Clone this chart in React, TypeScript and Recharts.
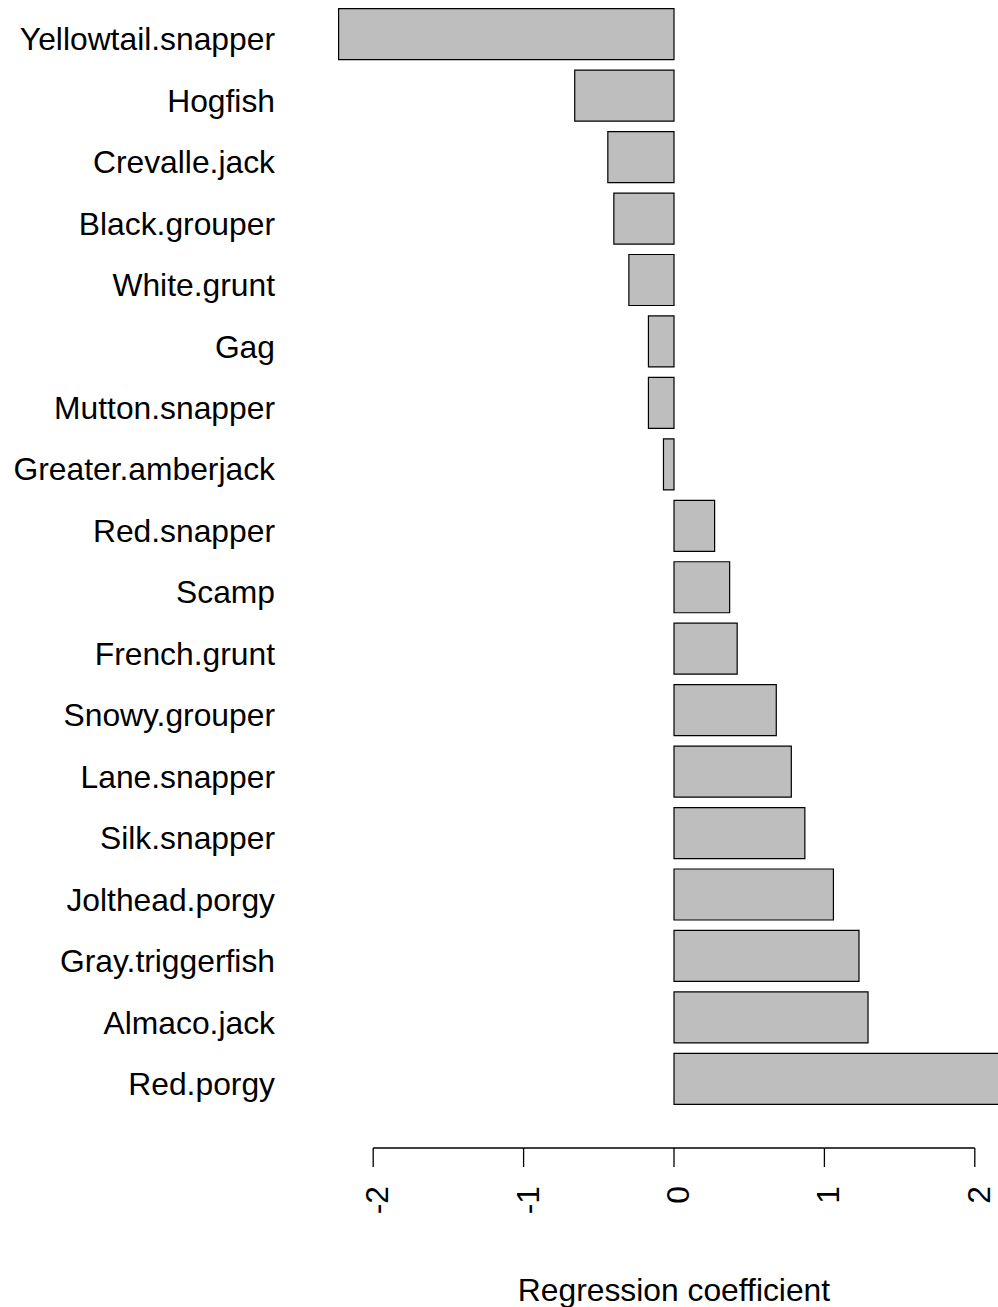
import React from 'react';
import { BarChart, Bar, XAxis, YAxis } from 'recharts';

const species = [
  'Yellowtail.snapper', 'Hogfish', 'Crevalle.jack', 'Black.grouper', 'White.grunt', 'Gag',
  'Mutton.snapper', 'Greater.amberjack', 'Red.snapper', 'Scamp', 'French.grunt', 'Snowy.grouper',
  'Lane.snapper', 'Silk.snapper', 'Jolthead.porgy', 'Gray.triggerfish', 'Almaco.jack', 'Red.porgy',
];
const coefficients = [
  -2.23, -0.66, -0.44, -0.4, -0.3, -0.17,
  -0.17, -0.07, 0.27, 0.37, 0.42, 0.68,
  0.78, 0.87, 1.06, 1.23, 1.29, 2.35,
];
const xTicks = [-2, -1, 0, 1, 2];
const xDomain = [-2.5, 2.5];
const xTitle = 'Regression coefficient';

const FONT = '"Liberation Sans", Arial, Helvetica, sans-serif';
const FONT_SIZE = 31.8;
const Y_AXIS_W = 298;
const PLOT_W = 752;
const UNIT_PX = PLOT_W / (xDomain[1] - xDomain[0]);
const AXIS_GAP = 38.3;

const data = species.map((name, i) => ({ name, value: coefficients[i] }));

function SpeciesTick({ x, y, payload }: any) {
  return (
    <text x={x - 23} y={y + 16} textAnchor="end" fontFamily={FONT} fontSize={FONT_SIZE} fill="#000">
      {payload.value}
    </text>
  );
}

// base-R style axis: line only spans first..last tick, labels rotated
function CoefTick({ x, y, payload, index }: any) {
  const ay = y + AXIS_GAP;
  const last = index === xTicks.length - 1;
  return (
    <g>
      {!last && <line x1={x} x2={x + UNIT_PX} y1={ay} y2={ay} stroke="#000" strokeWidth={1.3} />}
      <line x1={x} x2={x} y1={ay} y2={ay + 19} stroke="#000" strokeWidth={1.3} />
      <text
        transform={`translate(${x + 15},${ay + 38}) rotate(-90)`}
        textAnchor="end"
        fontFamily={FONT}
        fontSize={FONT_SIZE}
        fill="#000"
      >
        {payload.value}
      </text>
    </g>
  );
}

function AxisTitle(props: any) {
  const vb = props.viewBox ?? { x: Y_AXIS_W, y: 1109.7, width: PLOT_W, height: 197.3 };
  return (
    <text
      x={vb.x + vb.width / 2}
      y={vb.y + vb.height - 6}
      textAnchor="middle"
      fontFamily={FONT}
      fontSize={FONT_SIZE}
      fill="#000"
    >
      {xTitle}
    </text>
  );
}

export default function App() {
  return (
    <div style={{ position: 'absolute', left: 0, top: 0, width: 998, height: 1307, overflow: 'hidden', background: '#fff' }}>
      <BarChart
        width={Y_AXIS_W + PLOT_W}
        height={1307}
        data={data}
        layout="vertical"
        barCategoryGap="8.333%"
        margin={{ top: 3.6, right: 0, bottom: 0, left: 0 }}
      >
        <XAxis
          type="number"
          domain={xDomain}
          ticks={xTicks}
          interval={0}
          height={197.3}
          axisLine={false}
          tickLine={false}
          tickSize={0}
          tickMargin={0}
          tick={<CoefTick />}
          label={{ content: AxisTitle }}
        />
        <YAxis
          type="category"
          dataKey="name"
          width={Y_AXIS_W}
          axisLine={false}
          tickLine={false}
          tickSize={0}
          tickMargin={0}
          interval={0}
          tick={<SpeciesTick />}
        />
        <Bar dataKey="value" fill="#BEBEBE" stroke="#000" strokeWidth={1.2} isAnimationActive={false} />
      </BarChart>
    </div>
  );
}
